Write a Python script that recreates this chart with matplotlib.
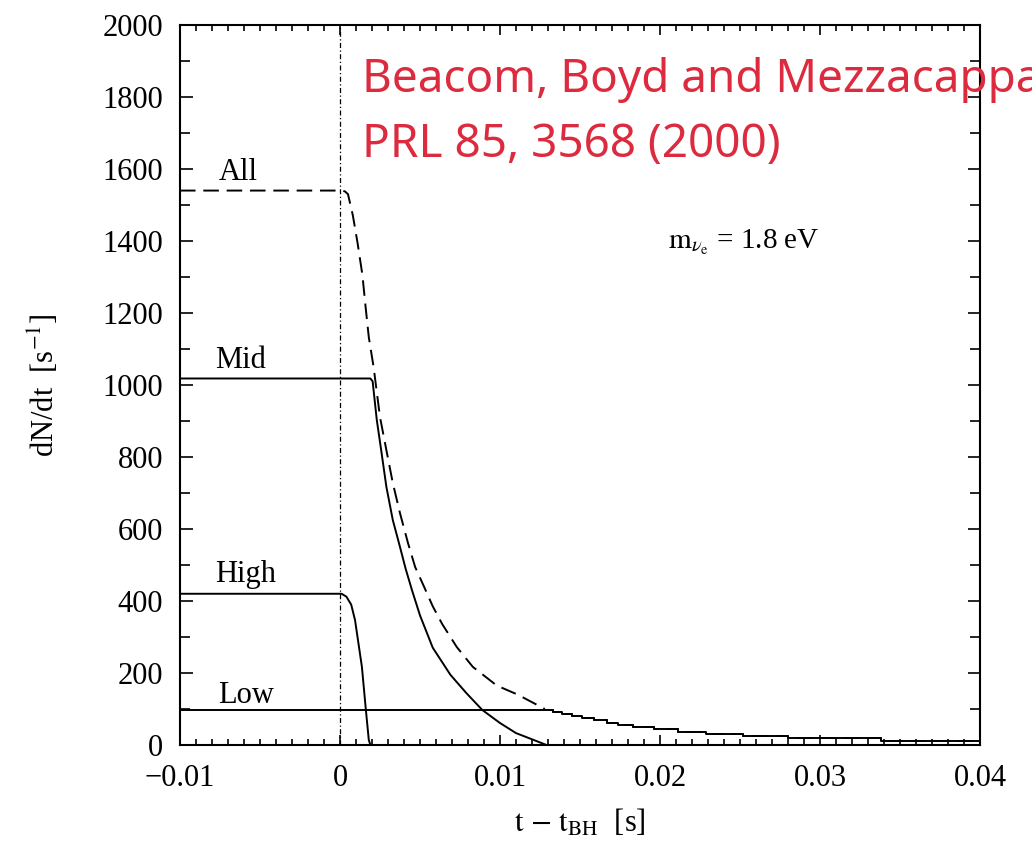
import matplotlib
matplotlib.use("Agg")
import matplotlib.pyplot as plt
from matplotlib.ticker import MultipleLocator

# fonts: Times-like serif for the plot, math in stix
plt.rcParams['font.family'] = ['Liberation Serif', 'DejaVu Serif']
plt.rcParams['mathtext.fontset'] = 'stix'

# "All" (dashed): flat, then the fast drop
t_all = [-0.01, 0.0, 0.0003, 0.0005, 0.0008, 0.0011, 0.0014, 0.0016, 0.0018,
         0.0021, 0.0025, 0.0029, 0.0033, 0.00375, 0.00425, 0.0047, 0.0052,
         0.0058, 0.0064, 0.0073, 0.0083, 0.0098, 0.0111, 0.0128]
n_all = [1540, 1540, 1538, 1530, 1472, 1394, 1306, 1217, 1133,
         1050, 911, 819, 728, 644, 561, 494, 445,
         385, 335, 272, 217, 165, 140, 100]

# "Mid"
t_mid = [-0.01, 0.0019, 0.00204, 0.0023, 0.0026, 0.0029, 0.0033, 0.00375,
         0.0041, 0.0045, 0.0050, 0.0058, 0.0069, 0.0079, 0.0089, 0.0100,
         0.0110, 0.0121, 0.0129]
n_mid = [1018, 1018, 1010, 903, 811, 717, 625, 550,
         490, 430, 360, 270, 195, 144, 97, 61,
         33, 14, 0]

# "High"
t_high = [-0.01, 0.0001, 0.0004, 0.0007, 0.00094, 0.00137, 0.0016, 0.0018, 0.0019]
n_high = [420, 420, 412, 390, 347, 217, 106, 14, 0]

# "Low": flat, then the stepped tail shared with "All"
t_tail = [0.0128, 0.0133, 0.0139, 0.0145, 0.0151, 0.0159, 0.0167, 0.0174,
          0.0183, 0.0196, 0.0211, 0.0229, 0.0252, 0.0280, 0.0338, 0.0400]
n_tail = [97, 92, 86, 81, 74, 68, 62, 56,
          49, 43, 37, 31, 24, 19, 12, 12]
t_low = [-0.01] + t_tail
n_low = [97] + n_tail

fig = plt.figure(figsize=(10.32, 8.55), dpi=100)
ax = fig.add_axes([0.1744, 0.1287, 0.7752, 0.8421])

lw = 1.4
ax.plot(t_all, n_all, color='black', lw=lw, dashes=(8, 4))
ax.plot(t_tail, n_tail, color='black', lw=lw, dashes=(8, 4), drawstyle='steps-post', zorder=1)
ax.plot(t_mid, n_mid, color='black', lw=lw)
ax.plot(t_high, n_high, color='black', lw=lw)
ax.plot(t_low, n_low, color='black', lw=lw, drawstyle='steps-post')
ax.axvline(0, color='black', lw=0.9, linestyle=(0, (4, 2, 1, 2)))

ax.set_xlim(-0.01, 0.04)
ax.set_ylim(0, 2000)
ax.xaxis.set_major_locator(MultipleLocator(0.01))
ax.xaxis.set_minor_locator(MultipleLocator(0.001))
ax.yaxis.set_major_locator(MultipleLocator(200))
ax.yaxis.set_minor_locator(MultipleLocator(100))
ax.set_xticks([-0.01, 0, 0.01, 0.02, 0.03, 0.04])
ax.set_xticklabels(['\u22120.01', '0', '0.01', '0.02', '0.03', '0.04'])
ax.tick_params(which='both', direction='in', top=True, right=True, labelsize=22, width=1.2)
ax.tick_params(axis='x', which='major', length=7, pad=14)
ax.tick_params(axis='x', which='minor', length=4)
ax.tick_params(axis='y', which='major', length=9, pad=12)
ax.tick_params(axis='y', which='minor', length=7)
for s in ax.spines.values():
    s.set_linewidth(1.5)

ax.set_xlabel(r'$\mathrm{t}$ $-$ $\mathrm{t_{BH}}$  [s]', fontsize=22, labelpad=10)
ax.set_ylabel(r'dN/dt  [s$^{-1}$]', fontsize=22, labelpad=30)

# curve names
ax.text(-0.0076, 1569, 'All', fontsize=22, va='baseline')
ax.text(-0.0078, 1047, 'Mid', fontsize=22, va='baseline')
ax.text(-0.0078, 452, 'High', fontsize=22, va='baseline')
ax.text(-0.0076, 117, 'Low', fontsize=22, va='baseline')
ax.text(0.0205, 1397, r'$\mathrm{m}_{\nu_\mathrm{e}}$ = 1.8 eV', fontsize=21, va='center')

# red reference note (runs past the right edge, as in the original)
fig.text(362 / 1032, 1 - 92 / 855, 'Beacom, Boyd and Mezzacappa', fontsize=33,
         color='#dc2a3e', family=['Noto Sans', 'DejaVu Sans'], va='baseline')
fig.text(362 / 1032, 1 - 157 / 855, 'PRL 85, 3568 (2000)', fontsize=33,
         color='#dc2a3e', family=['Noto Sans', 'DejaVu Sans'], va='baseline')

fig.savefig('out.png', dpi=100)
